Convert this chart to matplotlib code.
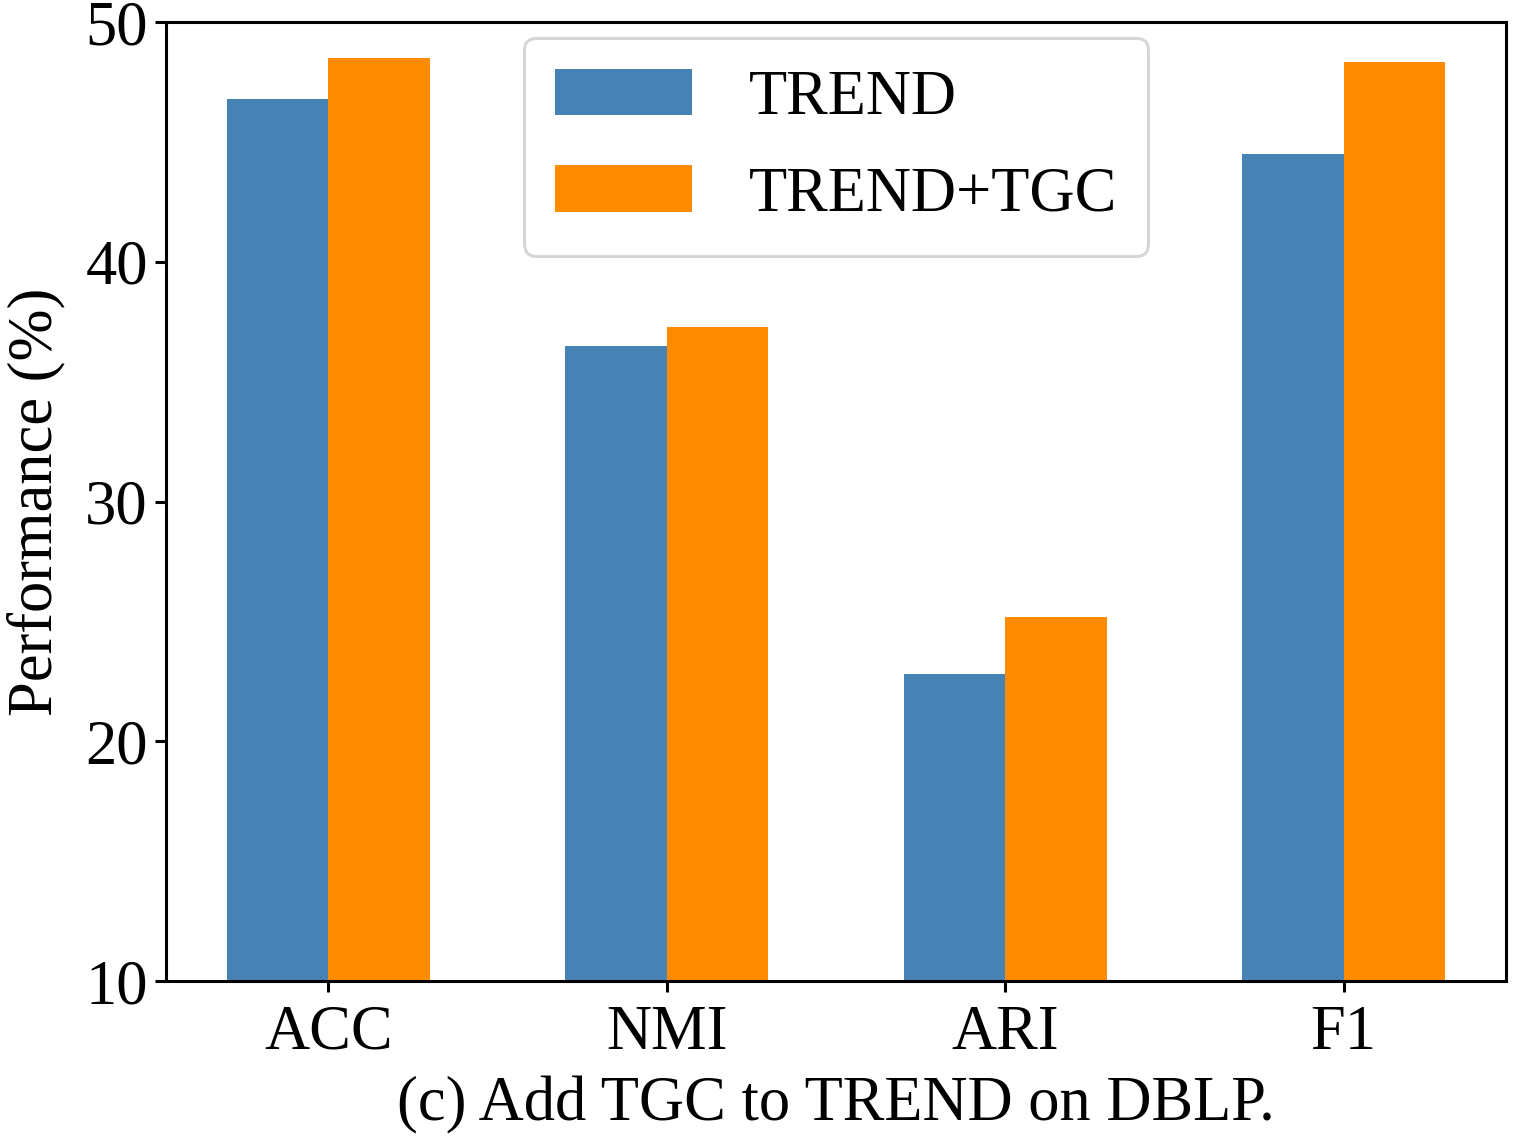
import numpy as np
import matplotlib
matplotlib.use('Agg')
import matplotlib.pyplot as plt

# values (%)
metrics = ['ACC', 'NMI', 'ARI', 'F1']
trend = [46.8, 36.5, 22.8, 44.5]
trend_tgc = [48.5, 37.3, 25.2, 48.35]

plt.rcParams['font.family'] = ['Liberation Serif', 'DejaVu Serif']
plt.rcParams['font.size'] = 45

fig = plt.figure(figsize=(15.22, 11.41), dpi=100)
ax = fig.add_axes([0.109, 0.1402, 0.8805, 0.8405])

x = np.arange(len(metrics))
w = 0.3
ax.bar(x - w / 2, trend, w, color='steelblue', label='TREND')
ax.bar(x + w / 2, trend_tgc, w, color='darkorange', label='TREND+TGC')

ax.set_ylim(10, 50)
ax.set_yticks([10, 20, 30, 40, 50])
ax.set_xticks(x)
ax.set_xticklabels(metrics)
ax.set_ylabel('Performance (%)', labelpad=14)
ax.set_xlabel('(c) Add TGC to TREND on DBLP.', labelpad=10)

for s in ax.spines.values():
    s.set_linewidth(2.2)
ax.tick_params(width=2.2, length=8)
ax.tick_params(axis='x', pad=9)
ax.tick_params(axis='y', pad=5)

leg = ax.legend(loc='upper center', borderaxespad=0.25, handlelength=2.2,
                handleheight=0.77, handletextpad=0.9, labelspacing=0.6,
                borderpad=0.5, framealpha=0.8)
leg.get_frame().set_linewidth(2.2)

fig.savefig('out.png', dpi=100)
